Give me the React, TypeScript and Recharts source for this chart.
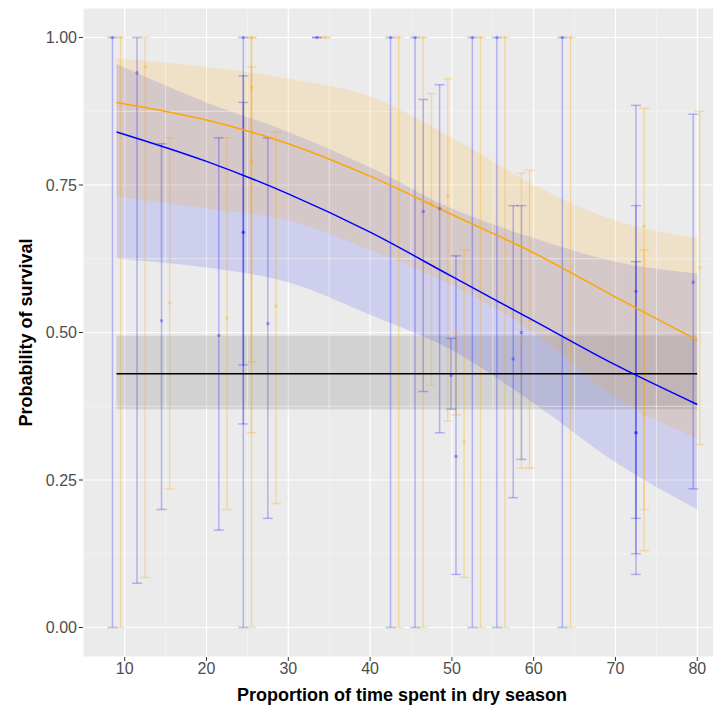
import React from 'react';
import { ComposedChart, Line, Area, Scatter, ErrorBar, XAxis, YAxis, CartesianGrid, ReferenceLine } from 'recharts';

const curveX = [9, 20, 30, 40, 50, 60, 70, 80];
const blueFit = [0.84, 0.79, 0.735, 0.67, 0.595, 0.52, 0.445, 0.378];
const blueLo = [0.625, 0.61, 0.585, 0.53, 0.47, 0.38, 0.28, 0.2];
const blueHi = [0.955, 0.89, 0.84, 0.78, 0.71, 0.66, 0.62, 0.6];
const orangeFit = [0.89, 0.86, 0.82, 0.765, 0.7, 0.635, 0.56, 0.487];
const orangeLo = [0.73, 0.71, 0.69, 0.64, 0.58, 0.5, 0.39, 0.32];
const orangeHi = [0.965, 0.95, 0.93, 0.9, 0.83, 0.75, 0.69, 0.66];
const nullX = [9, 80];
const nullFit = 0.43, nullLo = 0.37, nullHi = 0.495;

const bluePtX = [8.5, 11.5, 14.5, 21.5, 24.5, 24.5, 24.5, 27.5, 33.5, 42.5, 45.5, 46.5, 48.5, 50.5, 49.9, 52.5, 55.5, 57.5, 58.5, 63.5, 72.5, 72.5, 72.5, 79.5];
const bluePtY = [1, 0.94, 0.52, 0.495, 1, 0.67, 0.67, 0.515, 1, 1, 1, 0.705, 0.71, 0.29, 0.427, 1, 1, 0.455, 0.5, 1, 0.57, 0.33, 0.33, 0.585];
const bluePtLo = [0, 0.075, 0.2, 0.165, 0, 0.345, 0.445, 0.185, 1, 0, 0, 0.4, 0.33, 0.09, 0.37, 0, 0, 0.22, 0.285, 0, 0.185, 0.09, 0.125, 0.235];
const bluePtHi = [1, 1, 0.82, 0.83, 1, 0.935, 0.89, 0.83, 1, 1, 1, 0.895, 0.92, 0.63, 0.49, 1, 1, 0.715, 0.715, 1, 0.715, 0.885, 0.62, 0.87];

const orPtX = [9.5, 12.5, 15.5, 22.5, 25.5, 25.5, 25.5, 28.5, 34.5, 43.5, 46.5, 47.5, 49.5, 51.5, 50.5, 53.5, 56.5, 58.5, 59.5, 64.5, 73.5, 73.5, 80.3];
const orPtY = [1, 0.95, 0.55, 0.525, 1, 0.79, 0.915, 0.545, 1, 1, 1, 0.72, 0.73, 0.315, 0.48, 1, 1, 0.49, 0.52, 1, 0.68, 0.36, 0.61];
const orPtLo = [0, 0.085, 0.235, 0.2, 0, 0.33, 0.45, 0.21, 1, 0, 0, 0.41, 0.35, 0.085, 0.36, 0, 0, 0.27, 0.27, 0, 0.2, 0.13, 0.31];
const orPtHi = [1, 1, 0.83, 0.83, 1, 0.95, 1, 0.84, 1, 1, 1, 0.905, 0.93, 0.64, 0.5, 1, 1, 0.77, 0.775, 1, 0.88, 0.64, 0.875];

const xTicks = [10, 20, 30, 40, 50, 60, 70, 80];
const yTicks = [0, 0.25, 0.5, 0.75, 1];
const xMinor = [5, 15, 25, 35, 45, 55, 65, 75];
const yMinor = [0.125, 0.375, 0.625, 0.875];

const blueCurve = curveX.map((x, i) => ({ x, y: blueFit[i], band: [blueLo[i], blueHi[i]] }));
const orangeCurve = curveX.map((x, i) => ({ x, y: orangeFit[i], band: [orangeLo[i], orangeHi[i]] }));
const nullCurve = nullX.map((x) => ({ x, y: nullFit, band: [nullLo, nullHi] }));
const bluePts = bluePtX.map((x, i) => ({ x, y: bluePtY[i], err: [bluePtY[i] - bluePtLo[i], bluePtHi[i] - bluePtY[i]] }));
const orPts = orPtX.map((x, i) => ({ x, y: orPtY[i], err: [orPtY[i] - orPtLo[i], orPtHi[i] - orPtY[i]] }));

const tickStyle = { fill: '#4d4d4d', fontSize: 16, fontFamily: 'Liberation Sans, Arial, sans-serif' };
const titleStyle = { fill: '#000', fontSize: 18, fontWeight: 'bold', fontFamily: 'Liberation Sans, Arial, sans-serif', textAnchor: 'middle' } as any;

export default function App() {
  return (
    <ComposedChart width={713} height={698} margin={{ top: 0, right: 0, bottom: 0, left: 0 }}>
      <CartesianGrid fill="#ebebeb" stroke="#ffffff" strokeWidth={1.2} />
      {xMinor.map((v) => <ReferenceLine key={'xm' + v} x={v} stroke="#f7f7f7" strokeWidth={0.6} />)}
      {yMinor.map((v) => <ReferenceLine key={'ym' + v} y={v} stroke="#f7f7f7" strokeWidth={0.6} />)}
      <XAxis type="number" dataKey="x" domain={[4.9, 82.9]} ticks={xTicks} allowDataOverflow tick={tickStyle} tickLine={{ stroke: '#333' }} axisLine={false} tickSize={4} height={49}
        label={{ value: 'Proportion of time spent in dry season', position: 'insideBottom', offset: 5, style: titleStyle }} />
      <YAxis type="number" domain={[-0.05, 1.05]} ticks={yTicks} allowDataOverflow tickFormatter={(v) => v.toFixed(2)} tick={tickStyle} tickLine={{ stroke: '#333' }} axisLine={false} tickSize={4} width={75}
        label={{ value: 'Probability of survival', angle: -90, position: 'center', dx: -20, style: titleStyle }} />
      <Area data={nullCurve} dataKey="band" stroke="none" fill="#999999" fillOpacity={0.3} isAnimationActive={false} />
      <Area data={blueCurve} dataKey="band" type="monotone" stroke="none" fill="#0000ff" fillOpacity={0.12} isAnimationActive={false} />
      <Area data={orangeCurve} dataKey="band" type="monotone" stroke="none" fill="#ffa500" fillOpacity={0.15} isAnimationActive={false} />
      <Scatter data={bluePts} dataKey="y" fill="rgba(0,0,255,0.3)" shape={(p: any) => <circle cx={p.cx} cy={p.cy} r={1.8} fill="rgba(0,0,255,0.3)" />} isAnimationActive={false}>
        <ErrorBar dataKey="err" direction="y" width={5} stroke="rgba(0,0,255,0.25)" strokeWidth={1.5} />
      </Scatter>
      <Scatter data={orPts} dataKey="y" fill="rgba(255,165,0,0.3)" shape={(p: any) => <circle cx={p.cx} cy={p.cy} r={1.8} fill="rgba(255,165,0,0.3)" />} isAnimationActive={false}>
        <ErrorBar dataKey="err" direction="y" width={5} stroke="rgba(255,165,0,0.28)" strokeWidth={1.5} />
      </Scatter>
      <Line data={nullCurve} dataKey="y" stroke="#000" strokeWidth={1.5} dot={false} isAnimationActive={false} />
      <Line data={blueCurve} dataKey="y" type="monotone" stroke="#0000ff" strokeWidth={1.5} dot={false} isAnimationActive={false} />
      <Line data={orangeCurve} dataKey="y" type="monotone" stroke="#ffa500" strokeWidth={1.5} dot={false} isAnimationActive={false} />
    </ComposedChart>
  );
}
